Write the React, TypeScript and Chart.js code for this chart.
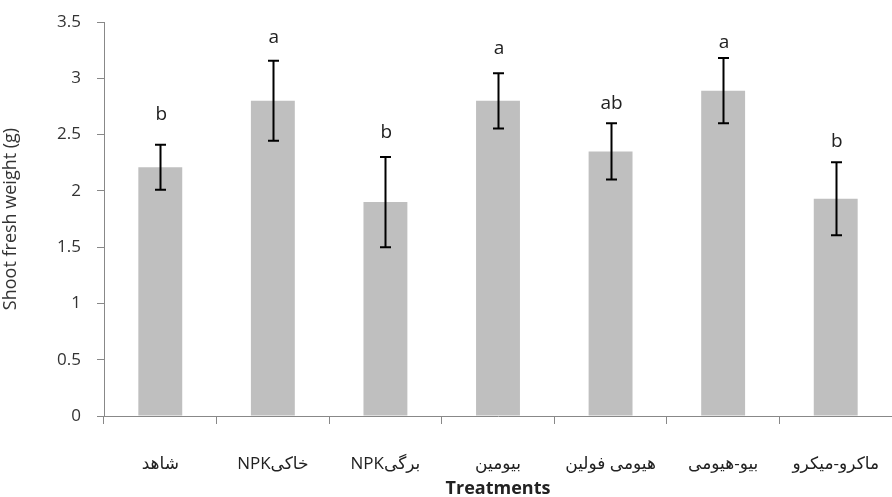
import React, { useEffect, useRef } from "react";
import { Chart, registerables } from "chart.js";

Chart.register(...registerables);

const categories = ["شاهد", "NPKخاکی", "NPKبرگی", "بیومین", "هیومی فولین", "بیو-هیومی", "ماکرو-میکرو"];
const means = [2.21, 2.8, 1.9, 2.8, 2.35, 2.89, 1.93];
const errors = [0.2, 0.355, 0.4, 0.245, 0.25, 0.29, 0.325];
const letters = ["b", "a", "b", "a", "ab", "a", "b"];
const letterY = [2.63, 3.31, 2.47, 3.22, 2.73, 3.27, 2.39];
const yTicks = [0, 0.5, 1, 1.5, 2, 2.5, 3, 3.5];

const FONT = "'Open Sans', 'DejaVu Sans', sans-serif";

const errorPlugin = {
  id: "errs",
  afterDatasetsDraw(chart: any) {
    const ctx = chart.ctx;
    const meta = chart.getDatasetMeta(0);
    const y = chart.scales.y;
    ctx.save();
    ctx.strokeStyle = "#000";
    ctx.lineWidth = 2;
    meta.data.forEach((bar: any, i: number) => {
      const x = Math.round(bar.x) + 0.5;
      const top = y.getPixelForValue(means[i] + errors[i]);
      const bot = y.getPixelForValue(means[i] - errors[i]);
      ctx.beginPath();
      ctx.moveTo(x, top);
      ctx.lineTo(x, bot);
      ctx.moveTo(x - 5.5, top);
      ctx.lineTo(x + 5.5, top);
      ctx.moveTo(x - 5.5, bot);
      ctx.lineTo(x + 5.5, bot);
      ctx.stroke();
    });
    ctx.fillStyle = "#222";
    ctx.font = `19px ${FONT}`;
    ctx.textAlign = "center";
    ctx.textBaseline = "alphabetic";
    meta.data.forEach((bar: any, i: number) => {
      ctx.fillText(letters[i], bar.x + 1, y.getPixelForValue(letterY[i]));
    });
    ctx.restore();
  },
};

export default function App() {
  const ref = useRef<HTMLCanvasElement>(null);
  useEffect(() => {
    document.body.style.margin = "0";
    const chart = new Chart(ref.current!, {
      type: "bar",
      data: {
        labels: categories,
        datasets: [
          {
            data: means,
            backgroundColor: "#BFBFBF",
            barPercentage: 0.39,
            categoryPercentage: 1,
          },
        ],
      },
      options: {
        animation: false,
        responsive: false,
        maintainAspectRatio: false,
        layout: { padding: { top: 22, right: 0, left: 0, bottom: 0 } },
        plugins: { legend: { display: false }, tooltip: { enabled: false } },
        scales: {
          x: {
            grid: { display: true, drawOnChartArea: false, drawTicks: true, tickLength: 8, color: "#888", offset: true },
            border: { display: true, color: "#888", width: 1 },
            ticks: { color: "#222", font: { size: 17, family: FONT }, padding: 30, maxRotation: 0, autoSkip: false },
            title: {
              display: true,
              text: "Treatments",
              color: "#222",
              font: { size: 18, weight: "bold", family: FONT },
              padding: { top: 0, bottom: -3 },
            },
            afterFit: (s: any) => {
              s.height = 81;
              s.paddingLeft = 0;
              s.paddingRight = 0;
            },
          },
          y: {
            min: 0,
            max: 3.5,
            afterBuildTicks: (s: any) => {
              s.ticks = yTicks.map((v) => ({ value: v }));
            },
            grid: { display: true, drawOnChartArea: false, drawTicks: true, tickLength: 7, color: "#888" },
            border: { display: true, color: "#888", width: 1 },
            ticks: {
              color: "#333",
              font: { size: 17, family: FONT },
              padding: 16,
              callback: (v: any) => String(v),
            },
            title: {
              display: true,
              text: "Shoot fresh weight (g)",
              color: "#333",
              font: { size: 18, family: FONT },
              padding: { top: 0, bottom: 0 },
            },
            afterFit: (s: any) => {
              s.width = 104;
              s.paddingTop = 0;
              s.paddingBottom = 0;
            },
          },
        },
      },
      plugins: [errorPlugin],
    });
    return () => chart.destroy();
  }, []);
  return <canvas ref={ref} width={892} height={497} style={{ display: "block" }} />;
}
